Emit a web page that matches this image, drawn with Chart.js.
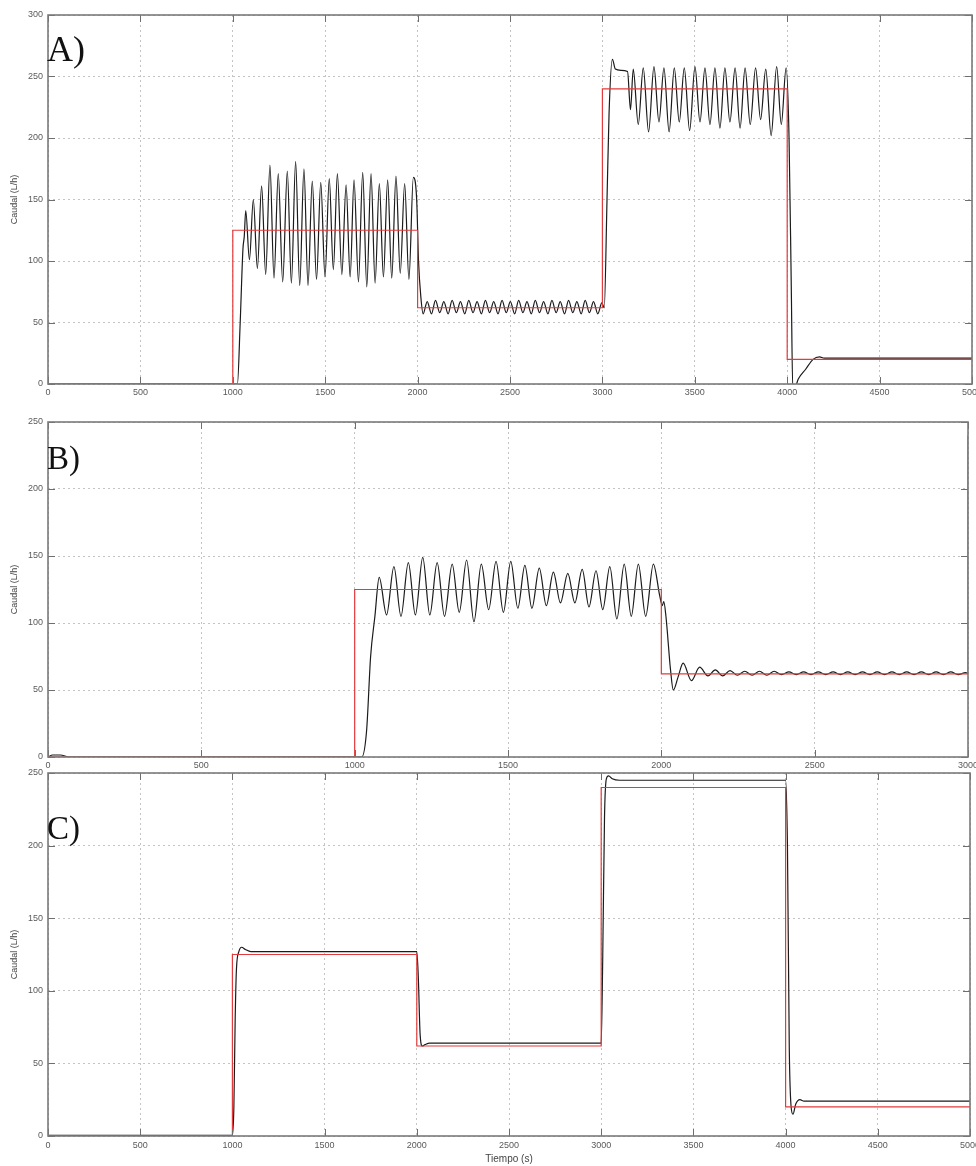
<!DOCTYPE html>
<html><head><meta charset="utf-8">
<script src="https://cdn.jsdelivr.net/npm/chart.js@4.4.1/dist/chart.umd.min.js"></script>
<style>
html,body{margin:0;padding:0;background:#fff;}
body{width:976px;height:1166px;position:relative;overflow:hidden;}
canvas{position:absolute;left:0;}
.lbl{position:absolute;left:47px;font-family:"Liberation Serif","DejaVu Serif",serif;color:#111;line-height:1;white-space:nowrap;}
</style></head><body>
<canvas id="cA" width="976" height="400" style="top:0px"></canvas>
<canvas id="cB" width="976" height="380" style="top:400px"></canvas>
<canvas id="cC" width="976" height="401" style="top:765px"></canvas>
<div class="lbl" style="top:31px;font-size:36px">A)</div>
<div class="lbl" style="top:442px;font-size:33px">B)</div>
<div class="lbl" style="top:812px;font-size:33px">C)</div>
<script>
// ---------- DATA ----------
const xTicks5000 = [0, 500, 1000, 1500, 2000, 2500, 3000, 3500, 4000, 4500, 5000];
const xTicks3000 = [0, 500, 1000, 1500, 2000, 2500, 3000];
const yTicks300 = [0, 50, 100, 150, 200, 250, 300];
const yTicks250 = [0, 50, 100, 150, 200, 250];

// Panel A: setpoint (red) and measured flow (black)
const A_setTime = [0, 1000, 1000, 2000, 2000, 3000, 3000, 4000, 4000, 5000];
const A_setFlow = [0, 0, 125, 125, 62, 62, 240, 240, 20, 20];
const A_time = [0, 1025, 1040, 1055, 1062, 1070, 1090, 1111, 1133, 1156, 1178, 1201, 1223, 1246, 1270, 1295, 1317, 1340, 1362, 1385, 1407, 1430, 1453, 1476, 1499, 1522, 1544, 1566, 1590, 1613, 1635, 1656, 1680, 1703, 1725, 1748, 1770, 1793, 1815, 1838, 1860, 1883, 1906, 1930, 1953, 1977, 1995, 2005, 2018,
  2030, 2052, 2075, 2097, 2120, 2142, 2165, 2187, 2210, 2232, 2255, 2277, 2300, 2322, 2345, 2367, 2390, 2412, 2435, 2457, 2480, 2502, 2525, 2547, 2570, 2592, 2615, 2637, 2660, 2682, 2705, 2727, 2750, 2772, 2795, 2817, 2840, 2862, 2885, 2907, 2930, 2952, 2975, 2997,
  3010, 3025, 3036, 3054, 3070, 3100, 3136, 3152, 3167, 3194, 3221, 3250, 3279, 3306, 3333, 3361, 3389, 3416, 3443, 3472, 3501, 3528, 3555, 3582, 3609, 3636, 3663, 3690, 3718, 3745, 3772, 3800, 3829, 3856, 3884, 3913, 3943, 3968, 3994,
  4010, 4022, 4030, 4045, 4060, 4100, 4140, 4175, 4200, 5000];
const A_flow = [0, 0, 50, 110, 120, 141, 101, 150, 94, 161, 89, 178, 86, 171, 83, 173, 82, 181, 80, 175, 80, 165, 85, 164, 87, 167, 93, 171, 89, 162, 87, 166, 83, 172, 79, 171, 82, 163, 87, 166, 86, 169, 90, 163, 85, 168, 150, 100, 70,
  57, 67, 57, 68, 58, 67, 57, 68, 58, 67, 57, 68, 58, 67, 57, 68, 58, 67, 57, 68, 58, 67, 57, 68, 58, 67, 57, 68, 58, 67, 57, 68, 58, 67, 57, 68, 58, 67, 57, 68, 58, 67, 57, 66,
  62, 150, 220, 264, 256, 255, 254, 223, 256, 211, 257, 205, 258, 213, 257, 205, 257, 213, 257, 206, 258, 213, 257, 211, 257, 208, 257, 213, 257, 208, 257, 211, 257, 215, 256, 202, 258, 211, 257,
  200, 80, -3, -2, 4, 12, 20, 22, 21, 21];

// Panel B
const B_setTime = [0, 1000, 1000, 2000, 2000, 3000, 3000];
const B_setFlow = [0, 0, 125, 125, 62, 62, 240];
const B_time = [0, 15, 40, 70, 1023, 1039, 1052, 1066, 1080, 1104, 1128, 1151, 1175, 1198, 1222, 1245, 1269, 1293, 1318, 1341, 1365, 1389, 1413, 1437, 1461, 1485, 1509, 1532, 1555, 1578, 1602, 1625, 1648, 1671, 1695, 1718, 1742, 1764, 1787, 1809, 1832, 1855, 1879, 1902, 1925, 1949, 1974,
  1995, 2003, 2008, 2015, 2030, 2039, 2055, 2071, 2098, 2125, 2152, 2176, 2200, 2224, 2248, 2272, 2296, 2320, 2344, 2368, 2392, 2416, 2440, 2464, 2488, 2512, 2536, 2560, 2584, 2608, 2632, 2656, 2680, 2704, 2728, 2752, 2776, 2800, 2824, 2848, 2872, 2896, 2920, 2944, 2968, 2992, 3000];
const B_flow = [0, 1.5, 1.5, 0, 0, 20, 75, 105, 134, 106, 142, 105, 145, 106, 149, 106, 145, 105, 144, 108, 147, 101, 144, 110, 146, 108, 146, 111, 143, 111, 141, 113, 138, 115, 137, 115, 140, 112, 139, 110, 142, 103, 144, 105, 144, 105, 144,
  120, 113, 116, 105, 65, 50, 60, 70, 57, 67, 60.5, 65, 60.5, 64.5, 61, 64, 61, 64, 61, 64, 61.5, 63.5, 61.5, 63.5, 61.5, 63.5, 61.5, 63.5, 61.5, 63.5, 61.5, 63.5, 61.5, 63.5, 61.5, 63.5, 61.5, 63.5, 61.5, 63.5, 61.5, 63.5, 61.5, 63.5, 61.5, 63, 62.5];

// Panel C
const C_setTime = [0, 1000, 1000, 2000, 2000, 3000, 3000, 4000, 4000, 5000];
const C_setFlow = [0, 0, 125, 125, 62, 62, 240, 240, 20, 20];
const C_time = [0, 1000, 1008, 1015, 1022, 1035, 1050, 1070, 1100, 2000, 2008, 2018, 2030, 2045, 2070, 3000, 3008, 3018, 3028, 3040, 3060, 3100, 4000, 4010, 4020, 4030, 4040, 4055, 4078, 4100, 5000];
const C_flow = [0.5, 0.5, 20, 80, 115, 127, 130, 128.5, 127, 127, 110, 70, 62, 63, 64, 64, 120, 220, 246, 248, 246, 245, 245, 200, 60, 20, 15, 22, 25, 24, 24];

// ---------- STYLE / BUILD ----------
const RED = '#e23b3b', BLACK = '#1b1b1b', GRID = '#c4c4c4', TXT = '#5a5a5a';
const pairs = (t, v) => t.map((x, i) => ({x: x, y: v[i]}));

const framePlugin = {
  id: 'frame',
  afterDraw(chart) {
    const {ctx, chartArea: a, scales} = chart;
    const x = scales.x, y = scales.y;
    ctx.save();
    ctx.strokeStyle = '#6e6e6e';
    ctx.lineWidth = 1;
    ctx.beginPath();
    x.ticks.forEach(t => {
      const p = Math.round(x.getPixelForValue(t.value)) + 0.5;
      ctx.moveTo(p, a.bottom); ctx.lineTo(p, a.bottom - 7);
      ctx.moveTo(p, a.top); ctx.lineTo(p, a.top + 7);
    });
    y.ticks.forEach(t => {
      const p = Math.round(y.getPixelForValue(t.value)) + 0.5;
      ctx.moveTo(a.left, p); ctx.lineTo(a.left + 7, p);
      ctx.moveTo(a.right, p); ctx.lineTo(a.right - 7, p);
    });
    ctx.stroke();
    ctx.strokeStyle = '#7a7a7a';
    ctx.lineWidth = 1.6;
    ctx.strokeRect(a.left, a.top, a.right - a.left, a.bottom - a.top);
    ctx.restore();
  }
};

function panel(id, o) {
  return new Chart(document.getElementById(id), {
    type: 'line',
    data: { datasets: [
      { data: pairs(o.setT, o.setV), borderColor: RED, borderWidth: 1.2, pointRadius: 0, tension: 0, order: 0 },
      { data: pairs(o.t, o.v), borderColor: BLACK, borderWidth: 1.2, pointRadius: 0, cubicInterpolationMode: 'monotone', order: 1 }
    ]},
    options: {
      responsive: false, animation: false, events: [],
      layout: { padding: { top: o.padTop, right: o.padRight, left: 0, bottom: 0 } },
      plugins: { legend: { display: false }, tooltip: { enabled: false } },
      scales: {
        x: {
          type: 'linear', min: o.xMin, max: o.xMax,
          afterBuildTicks: s => { s.ticks = o.xTicks.map(v => ({value: v})); },
          afterFit: s => { s.height = o.xH; s.paddingLeft = 0; s.paddingRight = 0; },
          grid: { color: GRID, drawTicks: false, lineWidth: 1 },
          border: { display: false, dash: [2, 3] },
          ticks: { padding: o.xPad, color: TXT, maxRotation: 0, autoSkip: false, font: { family: 'Liberation Sans', size: 9 }, callback: v => String(v) },
          title: o.xTitle ? { display: true, text: o.xTitle, color: '#444', font: { family: 'Liberation Sans', size: 10 }, padding: { top: 0, bottom: 1 } } : { display: false }
        },
        y: {
          type: 'linear', min: o.yMin, max: o.yMax,
          afterBuildTicks: s => { s.ticks = o.yTicks.map(v => ({value: v})); },
          afterFit: s => { s.width = 48; s.paddingTop = 0; s.paddingBottom = 0; },
          grid: { color: GRID, drawTicks: false, lineWidth: 1 },
          border: { display: false, dash: [2, 3] },
          ticks: { padding: 5, color: TXT, autoSkip: false, font: { family: 'Liberation Sans', size: 9 }, callback: v => String(v) },
          title: { display: true, text: 'Caudal (L/h)', color: '#444', font: { family: 'Liberation Sans', size: 9 }, padding: { top: 9, bottom: 0 } }
        }
      }
    },
    plugins: [framePlugin]
  });
}

panel('cA', { setT: A_setTime, setV: A_setFlow, t: A_time, v: A_flow, xMin: 0, xMax: 5000, xTicks: xTicks5000, yMin: 0, yMax: 300, yTicks: yTicks300, padTop: 15, padRight: 4, xH: 16, xPad: 3 });
panel('cB', { setT: B_setTime, setV: B_setFlow, t: B_time, v: B_flow, xMin: 0, xMax: 3000, xTicks: xTicks3000, yMin: 0, yMax: 250, yTicks: yTicks250, padTop: 22, padRight: 8, xH: 23, xPad: 3 });
panel('cC', { setT: C_setTime, setV: C_setFlow, t: C_time, v: C_flow, xMin: 0, xMax: 5000, xTicks: xTicks5000, yMin: 0, yMax: 250, yTicks: yTicks250, padTop: 8, padRight: 6, xH: 30, xPad: 4, xTitle: 'Tiempo (s)' });
</script>
</body></html>
